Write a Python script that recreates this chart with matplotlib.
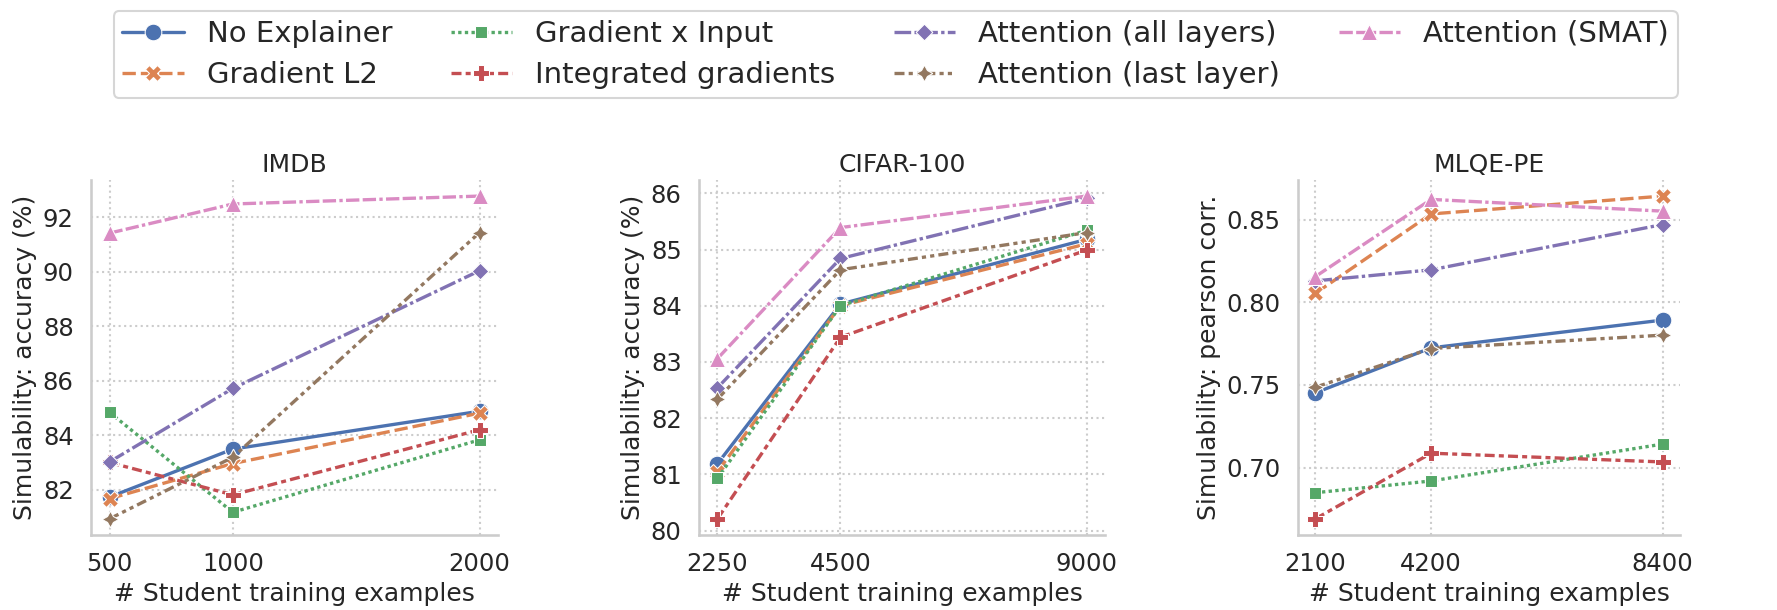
import numpy as np
import pandas as pd
import seaborn as sns
import matplotlib
matplotlib.use("Agg")
import matplotlib.pyplot as plt

methods = ["No Explainer", "Gradient L2", "Gradient x Input", "Integrated gradients",
           "Attention (all layers)", "Attention (last layer)", "Attention (SMAT)"]

# IMDB
imdb_n = [500, 1000, 2000]
imdb_acc = {
    "No Explainer":           [81.73, 83.49, 84.88],
    "Gradient L2":            [81.67, 82.96, 84.81],
    "Gradient x Input":       [84.84, 81.17, 83.83],
    "Integrated gradients":   [83.00, 81.81, 84.20],
    "Attention (all layers)": [83.02, 85.72, 90.04],
    "Attention (last layer)": [80.93, 83.19, 91.44],
    "Attention (SMAT)":       [91.42, 92.49, 92.78],
}

# CIFAR-100
cifar_n = [2250, 4500, 9000]
cifar_acc = {
    "No Explainer":           [81.19, 84.03, 85.18],
    "Gradient L2":            [81.05, 84.00, 85.10],
    "Gradient x Input":       [80.93, 84.00, 85.34],
    "Integrated gradients":   [80.21, 83.44, 84.99],
    "Attention (all layers)": [82.54, 84.84, 85.91],
    "Attention (last layer)": [82.34, 84.64, 85.30],
    "Attention (SMAT)":       [83.06, 85.39, 85.95],
}

# MLQE-PE
mlqe_n = [2100, 4200, 8400]
mlqe_corr = {
    "No Explainer":           [0.7452, 0.7724, 0.7892],
    "Gradient L2":            [0.8054, 0.8534, 0.8642],
    "Gradient x Input":       [0.6848, 0.6919, 0.7142],
    "Integrated gradients":   [0.6690, 0.7087, 0.7034],
    "Attention (all layers)": [0.8129, 0.8196, 0.8470],
    "Attention (last layer)": [0.7486, 0.7720, 0.7801],
    "Attention (SMAT)":       [0.8155, 0.8622, 0.8551],
}

panels = [
    ("IMDB", imdb_n, imdb_acc, "Simulability: accuracy (%)"),
    ("CIFAR-100", cifar_n, cifar_acc, "Simulability: accuracy (%)"),
    ("MLQE-PE", mlqe_n, mlqe_corr, "Simulability: pearson corr."),
]


def to_long(ns, vals):
    rows = []
    for m in methods:
        for n, v in zip(ns, vals[m]):
            rows.append({"n": n, "score": v, "method": m})
    return pd.DataFrame(rows)


sns.set_theme(style="whitegrid", context="talk",
              rc={"grid.linestyle": ":", "axes.edgecolor": "#cccccc"})

fig = plt.figure(figsize=(17.77, 6.10), dpi=100)
positions = [
    [91 / 1777, 0.123, 407 / 1777, 0.582],
    [699 / 1777, 0.123, 406 / 1777, 0.582],
    [1298 / 1777, 0.123, 382 / 1777, 0.582],
]

axes = []
for pos, (title, ns, vals, ylab) in zip(positions, panels):
    ax = fig.add_axes(pos)
    df = to_long(ns, vals)
    sns.lineplot(data=df, x="n", y="score", hue="method", style="method",
                 hue_order=methods, style_order=methods,
                 markers=True, dashes=True, markersize=12, linewidth=2.4, ax=ax)
    ax.set_xticks(ns)
    ax.set_xticklabels([str(n) for n in ns])
    ax.set_title(title, fontsize=18)
    ax.set_xlabel("# Student training examples", fontsize=18)
    ax.set_ylabel(ylab, fontsize=18)
    ax.tick_params(labelsize=17.5)
    sns.despine(ax=ax)
    axes.append(ax)

handles, labels = axes[0].get_legend_handles_labels()
for ax in axes:
    ax.get_legend().remove()

fig.legend(handles, labels, loc="center", ncol=4, fontsize=21,
           bbox_to_anchor=(0.504, 0.911), frameon=True,
           columnspacing=2.0, handlelength=2.1, handletextpad=0.8,
           labelspacing=0.45, borderpad=0.3)

fig.savefig("out.png", dpi=100)
